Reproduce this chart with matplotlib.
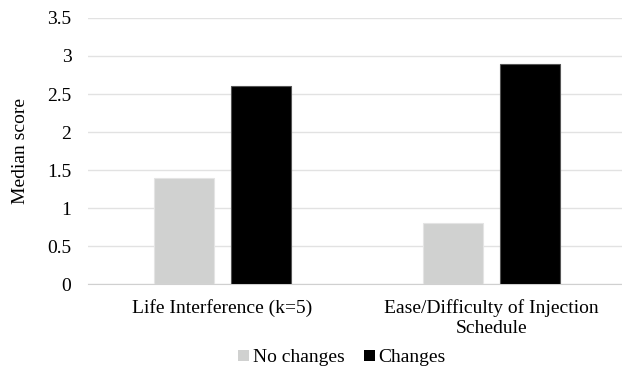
import numpy as np
import matplotlib.pyplot as plt
from matplotlib.patches import Patch

plt.rcParams['font.family'] = ['Liberation Serif', 'DejaVu Serif']

categories = ['Life Interference (k=5)', 'Ease/Difficulty of Injection\nSchedule']
no_changes = [1.4, 0.8]
changes = [2.6, 2.9]
series_names = ['No changes', 'Changes']

fig = plt.figure(figsize=(6.22, 3.67), dpi=100)
ax = fig.add_axes([0.1415, 0.226, 0.865, 0.725])

x = np.arange(len(categories))
w = 0.224
off = 0.142
ax.bar(x - off, no_changes, w, color='#d0d1d0', edgecolor='#e4e4e4', linewidth=0.8, zorder=3)
ax.bar(x + off, changes, w, color='black', edgecolor='#555555', linewidth=0.8, zorder=3)

ax.set_xlim(-0.5, 1.5)
ax.set_ylim(0, 3.5)
ax.set_yticks(np.arange(0, 3.51, 0.5))
ax.set_yticklabels(['0', '0.5', '1', '1.5', '2', '2.5', '3', '3.5'])
ax.yaxis.grid(True, color='#e2e2e2', linewidth=1, zorder=0)
ax.set_xticks(x)
ax.set_xticklabels(categories, fontsize=14, linespacing=1.25)
ax.tick_params(axis='both', length=0, labelsize=14, colors='black')
ax.tick_params(axis='y', pad=12)
ax.tick_params(axis='x', pad=11)
for s in ['top', 'right', 'left']:
    ax.spines[s].set_visible(False)
ax.spines['bottom'].set_color('#d0d0d0')
ax.set_ylabel('Median score', fontsize=14, labelpad=13)

handles = [Patch(facecolor='#d0d1d0', edgecolor='none'), Patch(facecolor='black', edgecolor='none')]
fig.legend(handles, series_names, loc='center', bbox_to_anchor=(0.55, 0.025), ncol=2,
           frameon=False, fontsize=14, handlelength=0.55, handleheight=0.55,
           handletextpad=0.2, columnspacing=1.0, borderpad=0)

fig.savefig('out.png', dpi=100)
